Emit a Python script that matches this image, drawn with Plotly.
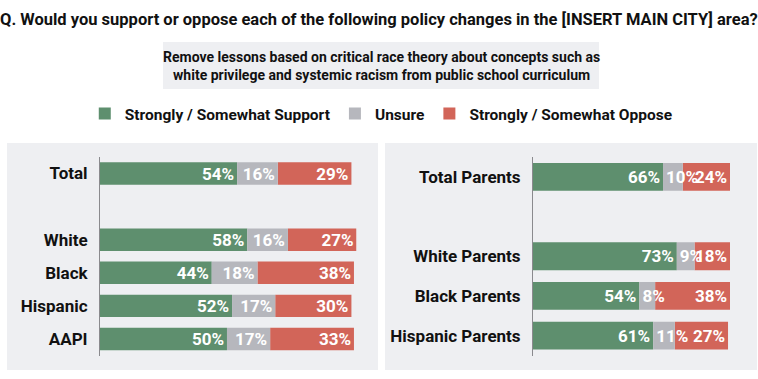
import plotly.graph_objects as go

# ---------------- data ----------------
left_groups = ["Total", "", "White", "Black", "Hispanic", "AAPI"]
left_support = [54, None, 58, 44, 52, 50]
left_unsure = [16, None, 16, 18, 17, 17]
left_oppose = [29, None, 27, 38, 30, 33]

right_groups = ["Total Parents", " ", "White Parents", "Black Parents", "Hispanic Parents"]
right_support = [66, None, 73, 54, 61]
right_unsure = [10, None, 9, 8, 11]
right_oppose = [24, None, 18, 38, 27]

series_names = ["Strongly / Somewhat Support", "Unsure", "Strongly / Somewhat Oppose"]

title_text = "Q. Would you support or oppose each of the following policy changes in the [INSERT MAIN CITY] area?"
subtitle_text = ("Remove lessons based on critical race theory about concepts such as<br>"
                 "white privilege and systemic racism from public school curriculum")

# ---------------- style ----------------
W, H = 758, 379
FONT = "Roboto, Liberation Sans, sans-serif"
COLORS = ["#5e8f6e", "#b6b7bd", "#d26559"]
PANEL_BG = "#eeeff2"

def px(x):
    return x / W

def py(y):
    return 1 - y / H

def f(size, color="#111111"):
    return dict(family=FONT, size=size, color=color, weight="bold")

fig = go.Figure()

def add_panel(groups, sup, uns, opp, xa, ya, showlegend, width, grey_anchor):
    # cumulative bases so the segments stack; the "Unsure" trace is drawn last so its
    # overflowing labels stay visible (as in the reference)
    base_unsure = [s if s is not None else None for s in sup]
    base_oppose = [(s + u) if s is not None else None for s, u in zip(sup, uns)]
    specs = [
        (0, sup, [0 if s is not None else None for s in sup], "end"),
        (2, opp, base_oppose, "end"),
        (1, uns, base_unsure, grey_anchor),
    ]
    for idx, vals, base, anc in specs:
        fig.add_trace(go.Bar(
            y=groups, x=vals, base=base, name=series_names[idx], orientation="h",
            marker=dict(color=COLORS[idx], line=dict(width=0)),
            width=width,
            text=[f"{v}%" if v is not None else "" for v in vals],
            textposition="inside", insidetextanchor=anc, textangle=0,
            textfont=f(17, "white"),
            cliponaxis=False, constraintext="none",
            xaxis=xa, yaxis=ya, showlegend=showlegend, legendgroup=series_names[idx],
            legendrank=idx + 1,
            hoverinfo="skip",
        ))

add_panel(left_groups, left_support, left_unsure, left_oppose, "x", "y", True, 0.68, "end")
add_panel(right_groups, right_support, right_unsure, right_oppose, "x2", "y2", False, 0.7, "start")

ydom = [py(355.5), py(157)]
axis_common = dict(showgrid=False, zeroline=False, showticklabels=False, fixedrange=True)
yaxis_common = dict(autorange="reversed", showgrid=False, zeroline=False, showline=True,
                    linecolor="#8a8a8e", linewidth=1, ticks="", ticklabelstandoff=8,
                    tickfont=f(17), domain=ydom, fixedrange=True)

fig.update_layout(
    width=W, height=H,
    margin=dict(l=0, r=0, t=0, b=0),
    paper_bgcolor="white", plot_bgcolor="rgba(0,0,0,0)",
    barmode="overlay",
    xaxis=dict(domain=[px(100), px(356.5)], range=[0, 101], anchor="y", **axis_common),
    yaxis=dict(anchor="x", categoryorder="array", categoryarray=left_groups, **yaxis_common),
    xaxis2=dict(domain=[px(533), px(730)], range=[0, 100], anchor="y2", **axis_common),
    yaxis2=dict(anchor="x2", categoryorder="array", categoryarray=right_groups, **yaxis_common),
    uniformtext=dict(minsize=17, mode="show"),
    showlegend=True,
    legend=dict(orientation="h", x=0.503, xanchor="center", y=py(97), yanchor="top",
                font=f(15.5), bgcolor="rgba(0,0,0,0)", itemwidth=30, traceorder="normal"),
    shapes=[
        dict(type="rect", xref="paper", yref="paper", x0=px(7), x1=px(378), y0=py(370), y1=py(143),
             fillcolor=PANEL_BG, line=dict(width=0), layer="below"),
        dict(type="rect", xref="paper", yref="paper", x0=px(385), x1=px(757), y0=py(370), y1=py(143),
             fillcolor=PANEL_BG, line=dict(width=0), layer="below"),
        dict(type="rect", xref="paper", yref="paper", x0=px(163), x1=px(599), y0=py(89), y1=py(42),
             fillcolor=PANEL_BG, line=dict(width=0), layer="below"),
    ],
    annotations=[
        dict(text=title_text, xref="paper", yref="paper", x=0.5, y=py(20), xanchor="center",
             yanchor="middle", showarrow=False, font=f(16.5)),
        dict(text=subtitle_text, xref="paper", yref="paper", x=px(381), y=py(66), xanchor="center",
             yanchor="middle", showarrow=False, align="center", font=f(14)),
    ],
)

fig.write_html("out.html", config={"displayModeBar": False},
               post_script="document.body.style.margin='0';")
